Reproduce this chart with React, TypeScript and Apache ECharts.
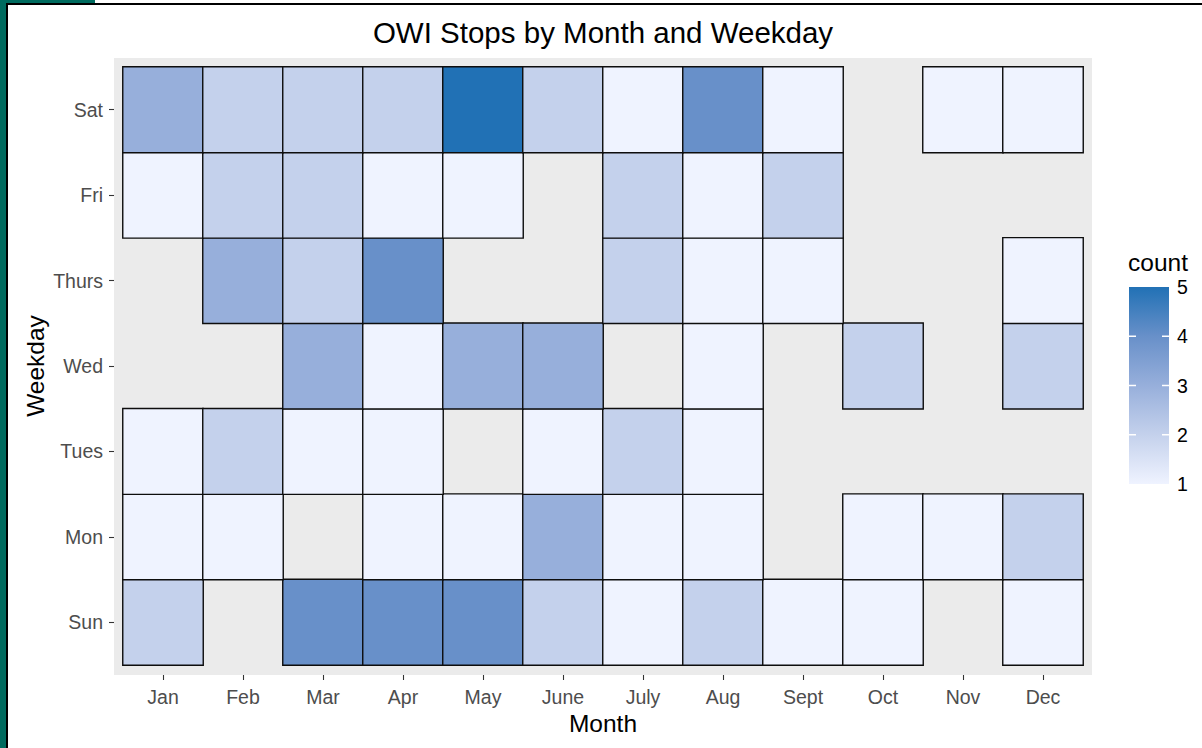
import React, { useEffect, useRef } from 'react';
import * as echarts from 'echarts';

// ---- data ----
const months = ['Jan', 'Feb', 'Mar', 'Apr', 'May', 'June', 'July', 'Aug', 'Sept', 'Oct', 'Nov', 'Dec'];
const weekdays = ['Sun', 'Mon', 'Tues', 'Wed', 'Thurs', 'Fri', 'Sat'];

const sunCounts = [2, null, 4, 4, 4, 2, 1, 2, 1, 1, null, 1];
const monCounts = [1, 1, null, 1, 1, 3, 1, 1, null, 1, 1, 2];
const tueCounts = [1, 2, 1, 1, null, 1, 2, 1, null, null, null, null];
const wedCounts = [null, null, 3, 1, 3, 3, null, 1, null, 2, null, 2];
const thuCounts = [null, 3, 2, 4, null, null, 2, 1, 1, null, null, 1];
const friCounts = [1, 2, 2, 1, 1, null, 2, 1, 2, null, null, null];
const satCounts = [3, 2, 2, 2, 5, 2, 1, 4, 1, null, 1, 1];

const countsByDay = [sunCounts, monCounts, tueCounts, wedCounts, thuCounts, friCounts, satCounts];

const legendTicks = [1, 2, 3, 4, 5];
const palette = ['#EFF3FF', '#C4D1EC', '#97AFDB', '#6890C9', '#2171B5'];

const FONT = '"Liberation Sans", Arial, Helvetica, sans-serif';

export default function App() {
  const ref = useRef<HTMLDivElement>(null);

  useEffect(() => {
    if (!ref.current) return;
    const chart = echarts.init(ref.current, undefined, { renderer: 'svg' });

    const data: [number, number, number][] = [];
    countsByDay.forEach((row, yi) => {
      row.forEach((v, xi) => {
        if (v !== null && v !== undefined) data.push([xi, yi, v as number]);
      });
    });

    const minV = legendTicks[0];
    const maxV = legendTicks[legendTicks.length - 1];

    // legend geometry
    const barX = 1129;
    const barY = 287;
    const barW = 40;
    const barH = 197;
    const yOf = (v: number) => barY + barH - ((v - minV) / (maxV - minV)) * barH;

    const legendEls: any[] = [
      {
        type: 'rect',
        shape: { x: barX, y: barY, width: barW, height: barH },
        style: {
          fill: new echarts.graphic.LinearGradient(0, 0, 0, 1,
            palette.slice().reverse().map((c, i) => ({ offset: i / (palette.length - 1), color: c }))),
        },
        z: 10,
      },
      {
        type: 'text',
        x: 1128,
        y: 262,
        style: { text: 'count', fontSize: 24.5, fontFamily: FONT, fill: '#000', align: 'left', verticalAlign: 'middle' },
        z: 10,
      },
    ];
    legendTicks.forEach((v) => {
      const y = yOf(v);
      legendEls.push({
        type: 'text',
        x: 1177,
        y,
        style: { text: String(v), fontSize: 19.5, fontFamily: FONT, fill: '#000', align: 'left', verticalAlign: 'middle' },
        z: 10,
      });
      if (v !== minV && v !== maxV) {
        legendEls.push(
          { type: 'line', shape: { x1: barX, y1: y, x2: barX + 7, y2: y }, style: { stroke: '#fff', lineWidth: 1.5 }, z: 11 },
          { type: 'line', shape: { x1: barX + barW - 7, y1: y, x2: barX + barW, y2: y }, style: { stroke: '#fff', lineWidth: 1.5 }, z: 11 },
        );
      }
    });

    const option: any = {
      animation: false,
      backgroundColor: '#ffffff',
      grid: { left: 123, top: 67, width: 960, height: 598, containLabel: false },
      xAxis: {
        type: 'category',
        data: months,
        offset: 10,
        axisLine: { show: false },
        axisTick: { show: true, alignWithLabel: true, length: 5, lineStyle: { color: '#333333', width: 1.1 } },
        axisLabel: { color: '#4D4D4D', fontSize: 19.5, fontFamily: FONT, margin: 12 },
        splitLine: { show: false },
        splitArea: { show: false },
      },
      yAxis: {
        type: 'category',
        data: weekdays,
        offset: 9,
        axisLine: { show: false },
        axisTick: { show: true, alignWithLabel: true, length: 5, lineStyle: { color: '#333333', width: 1.1 } },
        axisLabel: { color: '#4D4D4D', fontSize: 19.5, fontFamily: FONT, margin: 11 },
        splitLine: { show: false },
        splitArea: { show: false },
      },
      visualMap: {
        type: 'continuous',
        show: false,
        min: minV,
        max: maxV,
        dimension: 2,
        inRange: { color: palette },
      },
      series: [
        {
          type: 'heatmap',
          data,
          itemStyle: { borderColor: '#0d0d0d', borderWidth: 1.4 },
          emphasis: { disabled: true },
          z: 2,
        },
      ],
      graphic: [
        // panel background
        { type: 'rect', shape: { x: 114, y: 58, width: 978, height: 617 }, style: { fill: '#EBEBEB' }, z: 0, silent: true },
        // frame decorations
        { type: 'rect', shape: { x: 0, y: 0, width: 6, height: 748 }, style: { fill: '#006B5F' }, z: 20 },
        { type: 'rect', shape: { x: 0, y: 0, width: 95, height: 3 }, style: { fill: '#006B5F' }, z: 20 },
        { type: 'rect', shape: { x: 6, y: 3, width: 2, height: 745 }, style: { fill: '#000' }, z: 21 },
        { type: 'rect', shape: { x: 6, y: 3, width: 1196, height: 2 }, style: { fill: '#000' }, z: 21 },
        // title
        {
          type: 'text', x: 603, y: 32,
          style: { text: 'OWI Stops by Month and Weekday', fontSize: 29.5, fontFamily: FONT, fill: '#000', align: 'center', verticalAlign: 'middle' },
          z: 10,
        },
        // axis titles
        {
          type: 'text', x: 603, y: 723,
          style: { text: 'Month', fontSize: 24.5, fontFamily: FONT, fill: '#000', align: 'center', verticalAlign: 'middle' },
          z: 10,
        },
        {
          type: 'text', x: 35, y: 366, rotation: Math.PI / 2,
          style: { text: 'Weekday', fontSize: 24.5, fontFamily: FONT, fill: '#000', align: 'center', verticalAlign: 'middle' },
          z: 10,
        },
        ...legendEls,
      ],
    };

    chart.setOption(option);
    return () => chart.dispose();
  }, []);

  return (
    <div
      ref={ref}
      style={{ position: 'fixed', left: 0, top: 0, width: 1202, height: 748, background: '#fff' }}
    />
  );
}
